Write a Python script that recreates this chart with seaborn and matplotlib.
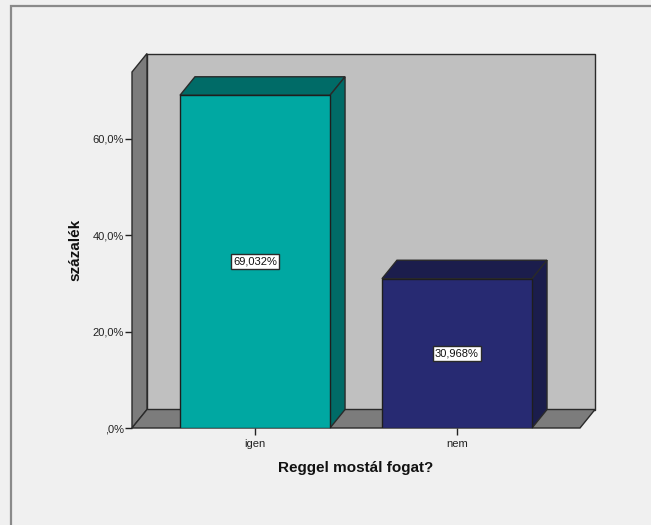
import matplotlib
matplotlib.use("Agg")
import matplotlib.pyplot as plt
from matplotlib.patches import Polygon, Rectangle
import seaborn as sns

# Data
categories = ["igen", "nem"]
percentages = [69.032, 30.968]
value_labels = ["69,032%", "30,968%"]
ytick_values = [0, 20, 40, 60]
ytick_labels = [",0%", "20,0%", "40,0%", "60,0%"]

front_colors = ["#00A8A2", "#272A72"]
shade_colors = ["#006B67", "#1B1D4C"]

sns.set_theme(style="white")
plt.rcParams["font.family"] = ["Liberation Sans", "DejaVu Sans"]

W, H = 651, 525
fig = plt.figure(figsize=(W / 100, H / 100), dpi=100, facecolor="#F0F0F0")

# outer frame of the chart area
fig.patches.append(Rectangle((11 / W, -0.1), 1.2, 1 - 6 / H + 0.1,
                             transform=fig.transFigure, fill=False,
                             edgecolor="#8A8A8A", linewidth=1.6))

# front plane of the axes in pixels
left_px, right_px, base_px, top_px = 132, 580, 428, 72
ax = fig.add_axes([left_px / W, (H - base_px) / H,
                   (right_px - left_px) / W, (base_px - top_px) / H])
ax.set_facecolor("none")

sns.barplot(x=categories, y=percentages, hue=categories, palette=front_colors,
            width=0.743, saturation=1, edgecolor="#1E1E1E", linewidth=1,
            legend=False, ax=ax)

xmin, xmax = -0.609, 1.609
ymax = (base_px - top_px) / 4.82
ax.set_xlim(xmin, xmax)
ax.set_ylim(0, ymax)

# depth offset of the 3-D look, converted to data units
dx = 15 * (xmax - xmin) / (right_px - left_px)
dy = 18.5 * ymax / (base_px - top_px)

edge = dict(edgecolor="#2A2A2A", linewidth=1, clip_on=False)

# back wall, left wall and floor
ax.add_patch(Rectangle((xmin + dx, dy), xmax - xmin, ymax, facecolor="#C0C0C0",
                       zorder=0.5, **edge))
ax.add_patch(Polygon([(xmin, 0), (xmin, ymax), (xmin + dx, ymax + dy), (xmin + dx, dy)],
                     facecolor="#7C7C7C", zorder=0.6, **edge))
ax.add_patch(Polygon([(xmin, 0), (xmax, 0), (xmax + dx, dy), (xmin + dx, dy)],
                     facecolor="#7C7C7C", zorder=0.6, **edge))

# top and side faces of each bar, plus the value boxes
for bar, shade, label in zip(list(ax.patches)[:len(categories)], shade_colors, value_labels):
    x0, w, h = bar.get_x(), bar.get_width(), bar.get_height()
    bar.set_zorder(3)
    ax.add_patch(Polygon([(x0, h), (x0 + w, h), (x0 + w + dx, h + dy), (x0 + dx, h + dy)],
                         facecolor=shade, zorder=2.5, **edge))
    ax.add_patch(Polygon([(x0 + w, 0), (x0 + w, h), (x0 + w + dx, h + dy), (x0 + w + dx, dy)],
                         facecolor=shade, zorder=2.5, **edge))
    ax.text(x0 + w / 2, h / 2, label, ha="center", va="center", fontsize=8,
            color="#111111", zorder=5,
            bbox=dict(boxstyle="square,pad=0.2", facecolor="white",
                      edgecolor="#2A2A2A", linewidth=1))

for s in ax.spines.values():
    s.set_visible(False)

ax.set_yticks(ytick_values)
ax.set_yticklabels(ytick_labels)
ax.tick_params(axis="both", which="major", direction="out", length=5, width=1,
               color="#222222", labelcolor="#222222", labelsize=8, pad=1,
               left=True, bottom=True)
ax.tick_params(axis="x", pad=3)
ax.set_xlabel("")
ax.set_ylabel("")

fig.text(75 / W, 1 - 250 / H, "százalék", rotation=90, ha="center", va="center",
         fontsize=11, fontweight="bold", color="#111111")
fig.text(356 / W, 1 - 468 / H, "Reggel mostál fogat?", ha="center", va="center",
         fontsize=11, fontweight="bold", color="#111111")

fig.savefig("out.png", dpi=100, facecolor=fig.get_facecolor())
